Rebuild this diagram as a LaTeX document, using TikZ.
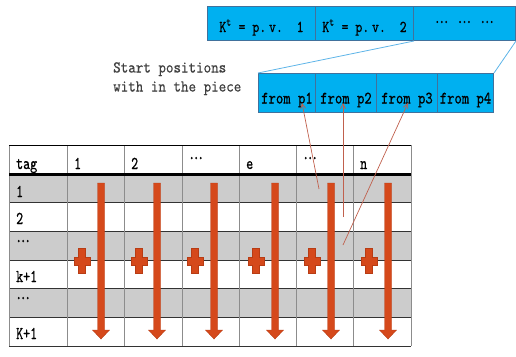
\documentclass[tikz,border=0pt]{standalone}
\usepackage{fontspec}
\usetikzlibrary{arrows.meta}

\newfontfamily\tabfont[FakeStretch=0.74,FakeBold=0.7]{lmmono10-regular.otf}
\newfontfamily\notefont[FakeStretch=0.87,FakeBold=0.4]{lmmono10-regular.otf}
\newfontfamily\boxfont[FakeStretch=0.80,FakeBold=0.6]{lmmono10-regular.otf}

\definecolor{rowgray}{HTML}{CCCCCC}
\definecolor{barfill}{HTML}{D5491B}
\definecolor{baredge}{HTML}{B83C14}
\definecolor{cellblue}{HTML}{00B0F0}
\definecolor{celledge}{HTML}{41719C}
\definecolor{linkblue}{HTML}{5DB4E8}
\definecolor{pointer}{HTML}{C0604D}
\definecolor{notegray}{HTML}{404040}
\definecolor{colgray}{HTML}{8C8C8C}

% three close-set dots
\newcommand\tdots{\raisebox{0.3em}{·\kern-2.5pt·\kern-2.5pt·}}

\tikzset{
  tabtext/.style={anchor=base west, inner sep=0pt, font=\tabfont\fontsize{18}{20}\selectfont},
  rowrule/.style={draw=black!80, line width=0.8pt},
  colrule/.style={draw=colgray, line width=0.8pt},
  bar/.style={fill=barfill, draw=baredge, line width=0.4pt},
  keycell/.style={anchor=north west, fill=cellblue, draw=celledge, line width=1pt,
    inner sep=0pt, text height=25.5pt, text depth=8.5pt,
    font=\boxfont\fontsize{16.5}{18}\selectfont},
  fromcell/.style={anchor=north west, fill=cellblue, draw=celledge, line width=1pt,
    inner sep=0pt, text height=30pt, text depth=9pt, minimum height=39pt,
    font=\boxfont\fontsize{17.5}{18}\selectfont},
  link/.style={draw=linkblue, line width=0.8pt},
  ptr/.style={draw=pointer, line width=0.7pt, -{Straight Barb[length=5pt,width=5pt]}},
  note/.style={anchor=base west, inner sep=0pt, align=left, text=notegray,
    font=\notefont\fontsize{16.5}{19}\selectfont},
}

\begin{document}
\begin{tikzpicture}[x=1pt,y=-1pt]
\useasboundingbox (0,0) rectangle (516,356);

% ---- table: shaded rows ----
\fill[rowgray] (9,174) rectangle (411,202);
\fill[rowgray] (9,231) rectangle (411,260);
\fill[rowgray] (9,288) rectangle (411,317);

% ---- table: rules ----
\foreach \y in {202,231,260,288,317,346}
  \draw[rowrule] (9,\y) -- (411,\y);
\foreach \x in {9,67,124,182,239,296,353,411}
  \draw[colrule] (\x,145) -- (\x,346);
\draw[black, line width=0.8pt] (9,145) -- (411,145);
\draw[black, line width=3pt] (9,174.5) -- (411,174.5);

% ---- table: header and row labels ----
\node[tabtext] (h0) at (16,169) {tag};
\node[tabtext] (h1) at (74,169) {1};
\node[tabtext] (h2) at (131,169) {2};
\node[tabtext] (h3) at (188,169) {\tdots};
\node[tabtext] (h4) at (246,169) {e};
\node[tabtext] (h5) at (302,169) {\tdots};
\node[tabtext] (h6) at (360,169) {n};

\node[tabtext] (r1) at (16,197) {1};
\node[tabtext] (r2) at (16,224) {2};
\node[tabtext] (r3) at (15,252) {\tdots};
\node[tabtext] (r4) at (16,282) {k+1};
\node[tabtext] (r5) at (15,309) {\tdots};
\node[tabtext] (r6) at (16,339) {K+1};

% ---- downward block arrows in each column ----
\foreach \x in {101,157,214,275,331,388}
  \draw[bar] (\x-3.5,183) -- (\x+3.5,183) -- (\x+3.5,330) -- (\x+8.5,330)
    -- (\x,339) -- (\x-8.5,330) -- (\x-3.5,330) -- cycle;

% ---- plus signs ----
\foreach \x in {82,139,195,256,312,369}
  \draw[bar] (\x-3.5,248) -- (\x+3.5,248) -- (\x+3.5,257) -- (\x+8,257)
    -- (\x+8,265) -- (\x+3.5,265) -- (\x+3.5,273) -- (\x-3.5,273)
    -- (\x-3.5,265) -- (\x-8,265) -- (\x-8,257) -- (\x-3.5,257) -- cycle;

% ---- key strip ----
\node[keycell, minimum width=108pt] (k1) at (207,6) {K\textsuperscript{t} = p.\,v.\ \ 1};
\node[keycell, minimum width=98pt]  (k2) at (315,6) {K\textsuperscript{t} = p.\,v.\ \ 2};
\node[keycell, minimum width=102pt] (k3) at (413,6) {\tdots\ \tdots\ \tdots};

% ---- start-position strip ----
\node[fromcell, minimum width=57pt] (p1) at (258,73) {from p1};
\node[fromcell, minimum width=61pt] (p2) at (315,73) {from p2};
\node[fromcell, minimum width=61pt] (p3) at (376,73) {from p3};
\node[fromcell, minimum width=56pt] (p4) at (437,73) {from p4};

\draw[link] (k2.south east) -- (p1.north west);
\draw[link] (k3.south east) -- (p4.north east);

\node[note] (note) at (113,91.5) {Start positions\\with in the piece};

% ---- pointers from table entries to start positions ----
\coordinate (s1) at (319,189);
\coordinate (s2) at (343,217);
\coordinate (s3) at (343,245);
\coordinate (e1) at (302,103);
\coordinate (e2) at (343,103);
\coordinate (e3) at (408,103);
\draw[ptr] (s1) -- (e1);
\draw[ptr] (s2) -- (e2);
\draw[ptr] (s3) -- (e3);
\end{tikzpicture}
\end{document}
